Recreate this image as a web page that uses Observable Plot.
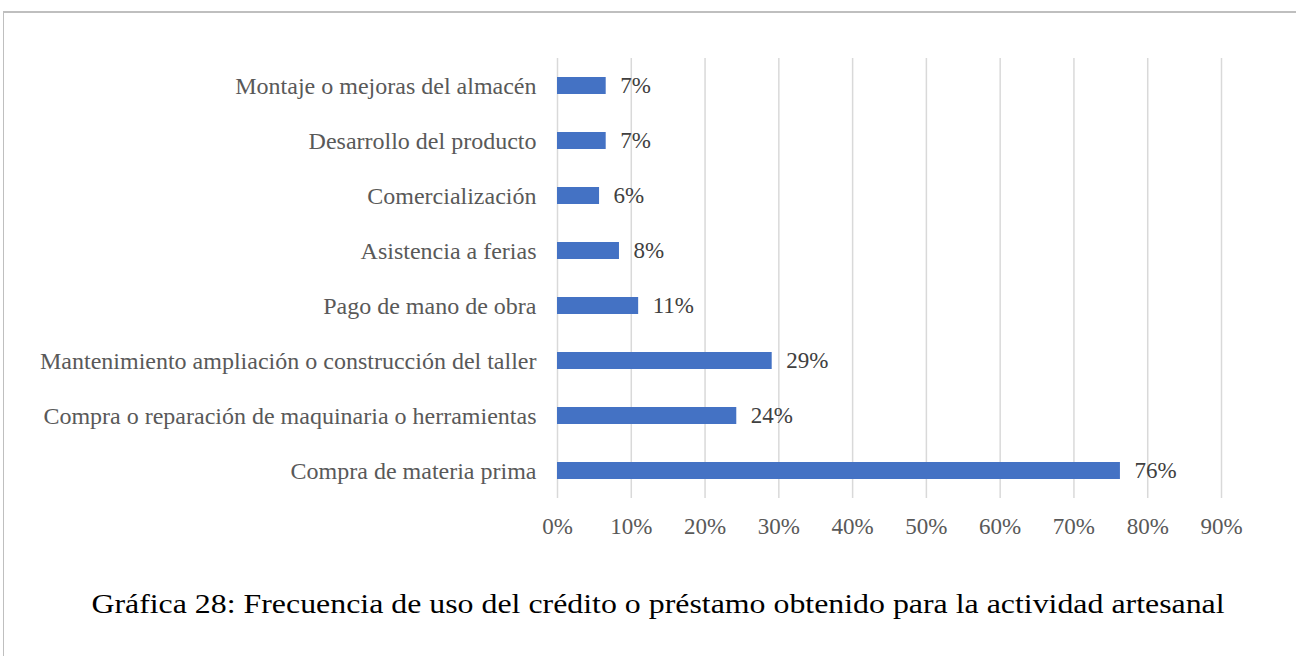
<!DOCTYPE html>
<html>
<head>
<meta charset="utf-8">
<script src="https://cdn.jsdelivr.net/npm/d3@7"></script>
<script src="https://cdn.jsdelivr.net/npm/@observablehq/plot@0.6"></script>
<style>
  html, body { margin: 0; padding: 0; background: #fff; }
  body { width: 1296px; height: 656px; position: relative; overflow: hidden; font-family: "Liberation Serif", "Times New Roman", serif; }
  #frame { position: absolute; left: 3px; top: 11px; width: 1400px; height: 700px; border-top: 2px solid #bfbfbf; border-left: 1px solid #bfbfbf; }
  #chart { position: absolute; left: 0; top: 0; }
  #caption { position: absolute; left: 657.5px; top: 591px; font-size: 27px; line-height: 27px; color: #000; white-space: nowrap; transform: translateX(-50%) scaleX(1.18); transform-origin: center; }
</style>
</head>
<body>
<div id="frame"></div>
<div id="chart"></div>
<div id="caption">Gráfica 28: Frecuencia de uso del crédito o préstamo obtenido para la actividad artesanal</div>
<script>
const categories = [
  "Montaje o mejoras del almacén",
  "Desarrollo del producto",
  "Comercialización",
  "Asistencia a ferias",
  "Pago de mano de obra",
  "Mantenimiento ampliación o construcción del taller",
  "Compra o reparación de maquinaria o herramientas",
  "Compra de materia prima"
];
const values = [0.066, 0.066, 0.057, 0.084, 0.110, 0.291, 0.243, 0.763];
const xTicks = [0, 0.1, 0.2, 0.3, 0.4, 0.5, 0.6, 0.7, 0.8, 0.9];

const data = categories.map((c, i) => ({category: c, value: values[i]}));
const pct = d3.format(".0%");

const chart = Plot.plot({
  width: 1296,
  height: 560,
  marginLeft: 557,
  marginRight: 75,
  marginTop: 58,
  marginBottom: 62,
  style: {fontFamily: "'Liberation Serif', 'Times New Roman', serif", background: "transparent"},
  x: {domain: [0, 0.9], axis: null},
  y: {domain: categories, padding: 0, axis: null},
  marks: [
    Plot.ruleX(xTicks, {stroke: "#d9d9d9", strokeWidth: 1.5}),
    Plot.barX(data, {x: "value", y: "category", fill: "#4472c4", insetTop: 19, insetBottom: 19}),
    Plot.text(data, {x: "value", y: "category", text: d => pct(d.value), textAnchor: "start", dx: 14, fontSize: 23, fill: "#404040"}),
    Plot.axisX(xTicks, {tickSize: 0, tickPadding: 19, tickFormat: pct, fontSize: 23, color: "#595959", label: null}),
    Plot.axisY(categories, {tickSize: 0, tickPadding: 21, fontSize: 24, color: "#595959", label: null})
  ]
});
document.getElementById("chart").appendChild(chart);
</script>
</body>
</html>
